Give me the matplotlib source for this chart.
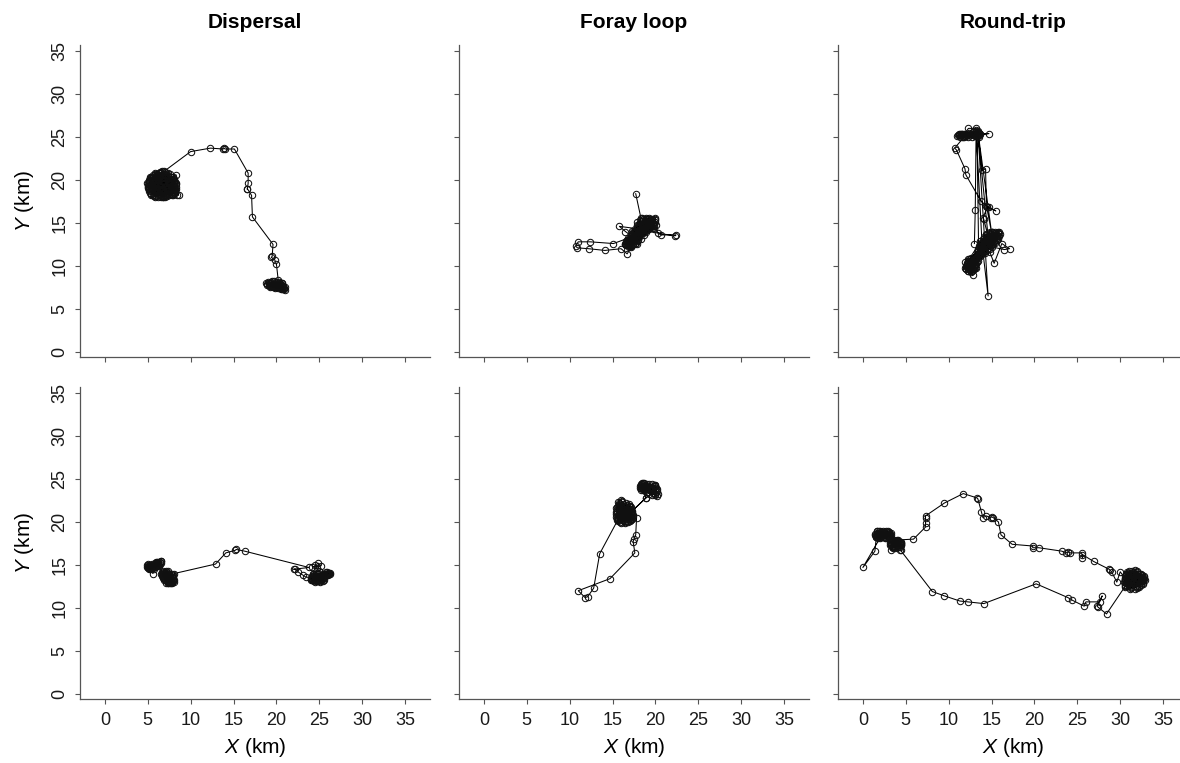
import matplotlib
matplotlib.use("Agg")
import matplotlib.pyplot as plt

plt.rcParams['font.family'] = ['Liberation Sans', 'DejaVu Sans']
plt.rcParams['mathtext.fontset'] = 'custom'
plt.rcParams['mathtext.it'] = 'Liberation Sans:italic'
plt.rcParams['mathtext.rm'] = 'Liberation Sans'

titles = ["Dispersal", "Foray loop", "Round-trip"]
tick_vals = [0, 5, 10, 15, 20, 25, 30, 35]
tick_labels = ["0", "5", "10", "15", "20", "25", "30", "35"]
xlabel = "$X$ (km)"
ylabel = "$Y$ (km)"

# ================= Dispersal (top) : (x, y) fixes in km =================
disp1_clusterA = [(6.5,19.2),(5.2,19.9),(7.8,18.4),(6.0,20.5),(8.3,19.0),(5.5,18.7),(7.1,20.6),(6.2,18.2),
    (4.9,19.6),(7.6,19.5),(6.8,18.1),(5.6,20.1),(8.0,18.6),(6.4,20.8),(5.1,18.9),(7.3,19.8),(6.9,18.5),
    (5.8,19.3),(8.4,18.3),(6.1,19.7),(5.3,20.3),(7.7,18.9),(6.6,18.0),(5.9,20.7),(7.2,19.4),(8.1,19.9),
    (5.4,18.3),(6.7,20.2),(7.5,18.7),(6.3,19.0),(5.0,19.2),(7.9,19.4),(6.0,18.5),(7.0,20.9),(5.7,19.6),
    (8.2,18.8),(6.5,18.1),(5.2,20.0),(7.4,18.4),(6.8,19.9),(6.1,20.4),(7.8,20.0),(5.5,19.0),(6.9,18.3),
    (7.3,19.1),(5.9,18.0),(6.4,20.6),(8.0,19.3),(5.3,19.5),(7.1,20.3),(6.6,18.8),(5.8,20.1),(7.6,19.7),
    (6.2,18.6),(7.0,18.2),(5.6,20.4),(8.3,19.6),(6.7,19.0),(6.0,19.8),(7.4,20.5),(5.1,19.3),(6.5,18.4),
    (7.7,18.6),(6.3,20.8),(5.7,18.6),(7.2,19.2),(6.9,19.7),(5.4,19.1),(8.1,18.9),(6.1,18.9),(7.5,19.5),
    (6.8,18.0),(5.9,20.0),(7.0,20.2),(6.4,19.4),(5.5,19.4),(7.9,19.1),(6.6,18.7),(6.2,20.1),(7.3,19.0),
    (5.8,19.8),(6.9,20.6),(7.6,19.9),(6.0,18.8),(6.7,21.0),(7.1,18.4),(6.3,19.3),(6.8,18.8),(7.0,20.7),
    (8.6,18.2),(8.3,20.6)]
disp1_clusterA2 = [(5.1,19.0),(8.1,19.6),(5.3,20.2),(8.2,18.7),(5.4,18.4),(7.9,20.3),(5.0,19.6),(8.3,19.2),
    (5.6,20.6),(7.8,18.2),(5.2,18.7),(8.0,20.0),(5.7,18.1),(7.6,20.7),(5.0,19.3),(8.2,19.0),(5.5,20.4),
    (8.1,18.4),(5.3,18.5),(7.4,20.8),(6.2,18.0),(6.6,20.9),(7.0,18.0),(5.9,20.8),(7.2,18.1),(6.1,20.7),
    (6.8,18.0),(6.4,20.9),(7.5,18.2),(5.8,20.6),(8.3,19.5),(5.1,19.8),(8.0,18.5),(5.4,20.3),(7.7,20.4),
    (5.2,18.9),(8.2,19.8),(5.6,18.3),(7.9,18.3),(5.3,20.0),(8.1,20.1),(5.0,19.1),(7.3,20.6),(6.0,18.1),
    (7.8,19.3),(5.5,19.5),(8.0,18.9),(5.8,20.3),(7.1,18.3),(6.3,20.5),(6.9,21.0)]
disp1_path = [(10.0,23.3),(12.3,23.7),(13.8,23.6),(13.9,23.7),(14.0,23.6),(15.1,23.6),(16.7,20.8),
    (16.7,19.6),(16.6,18.9),(16.6,19.0),(17.1,18.2),(17.2,15.7),(19.6,12.5),(19.5,11.1),(19.4,11.0),
    (19.8,10.7),(20.0,10.2),(20.2,8.4)]
disp1_clusterB = [(20.0,8.1),(19.3,7.9),(20.6,7.6),(18.8,8.0),(19.9,7.5),(20.4,8.0),(19.5,7.7),(20.9,7.3),
    (19.7,8.2),(20.2,7.4),(19.1,7.8),(20.7,7.8),(19.8,7.6),(20.3,7.7),(19.4,8.1),(20.8,7.5),(19.6,7.9),
    (20.1,7.8),(20.5,7.3),(19.2,7.7),(20.0,7.6),(20.6,8.0),(19.9,8.0),(20.4,7.5),(19.7,7.7),(21.0,7.2),
    (20.2,7.9),(19.5,7.8),(20.3,7.6),(20.7,7.4)]
disp1_clusterB2 = [(18.9,7.9),(20.9,7.4),(19.0,8.1),(20.8,7.7),(19.2,7.6),(20.6,7.3),(19.1,8.0),(20.7,8.0),
    (19.3,7.7),(21.0,7.5),(19.5,8.2),(20.5,7.4),(18.9,7.8),(20.4,7.9),(19.6,7.5),(20.8,7.3),(19.4,8.0),
    (20.3,8.1),(19.8,7.4),(20.1,7.7)]

# ================= Foray loop (top) =================
foray1_start = [(17.7,18.4),(18.3,15.6)]
foray1_cluster = [(17.0,12.5),(18.2,14.1),(16.7,13.0),(19.3,14.6),(17.6,13.8),(18.8,15.1),(16.9,12.2),
    (19.6,15.3),(17.8,13.2),(18.4,14.9),(17.2,13.5),(19.0,14.2),(16.6,12.7),(18.6,15.4),(17.5,12.9),
    (19.8,14.9),(18.0,14.5),(17.3,12.4),(19.2,15.6),(17.9,13.6),(18.7,14.4),(16.8,12.9),(19.5,14.7),
    (17.4,13.9),(18.3,15.2),(17.7,12.7),(19.1,15.0),(18.1,13.4),(16.5,12.5),(18.9,14.0),(17.6,14.3),
    (19.4,15.4),(17.1,13.2),(18.5,14.7),(17.8,12.5),(20.0,15.1),(18.2,13.7),(17.3,13.7),(19.0,15.5),
    (17.9,14.8),(18.6,13.8),(16.9,12.6),(19.7,14.4),(17.5,13.3),(18.4,14.3),(17.2,12.8),(18.8,15.3),
    (18.0,13.9),(19.3,14.9),(17.7,14.0),(18.3,13.1),(16.7,12.4),(19.1,14.5),(17.4,12.6),(18.6,14.6),
    (17.9,15.1),(19.5,15.0),(18.1,14.2),(17.0,13.0),(18.9,14.8),(17.6,13.4),(18.4,15.6),(17.3,14.1),
    (19.2,14.3),(18.0,13.0),(17.8,14.4),(18.7,15.0),(17.2,12.3),(19.6,14.6),(18.5,13.9)]
foray1_cluster2 = [(16.6,12.4),(19.5,15.2),(16.9,13.1),(19.8,14.6),(17.1,12.3),(19.1,15.5),(16.7,12.8),
    (19.7,15.0),(17.4,12.5),(18.9,15.4),(16.8,12.5),(19.4,14.5),(17.3,13.6),(20.1,14.8),(16.5,12.6),
    (19.0,14.9),(17.6,12.6),(19.6,15.4),(17.0,13.3),(18.6,15.0),(17.9,12.9),(19.9,15.3),(16.9,12.3),
    (18.5,14.2),(17.5,14.0),(19.3,15.1),(16.6,12.9),(19.8,14.3),(17.7,13.0),(18.2,15.3),(17.2,12.6),
    (19.2,14.7),(17.8,14.6),(18.7,13.6),(16.8,13.2),(20.0,15.4),(17.4,13.1),(18.9,15.6),(17.1,12.9),
    (19.5,14.4)]
foray1_loops = [(20.0,15.6),(19.4,14.8),(20.6,13.6),(22.4,13.6),(22.3,13.5),(20.3,13.8),(18.8,14.2),
    (15.8,14.6),(16.5,14.0),(17.3,13.4),(15.1,12.6),(12.4,12.8),(11.0,12.8),(10.7,12.3),(10.9,12.1),
    (12.2,12.0),(14.1,11.8),(16.0,12.0),(16.7,11.4),(17.2,12.2),(18.1,13.6)]

# ================= Round-trip (top) =================
round1_south_low = [(12.0,10.0),(12.8,9.5),(12.3,10.6),(13.2,10.2),(11.9,9.8),(12.6,10.9),(13.4,10.6),
    (12.2,9.4),(12.9,10.4),(12.5,9.9),(13.1,9.7),(12.1,10.3),(12.7,10.1),(13.3,11.0),(12.4,9.6),
    (11.9,10.4),(12.9,9.9),(12.6,9.3),(13.0,10.8),(12.3,10.0),(12.8,10.6),(12.0,9.6),(13.2,9.8),
    (12.5,10.5),(12.2,10.8),(12.9,9.6),(12.4,10.2),(13.1,10.4),(12.7,9.7),(12.1,9.9),(12.8,8.9),
    (12.6,9.8)]
round1_south_up = [(13.5,11.5),(14.6,12.9),(13.8,12.3),(15.2,13.6),(14.1,11.6),(15.6,13.0),(13.4,12.0),
    (14.8,13.9),(14.3,12.2),(15.0,12.4),(13.7,11.2),(15.8,13.8),(14.4,13.3),(13.9,12.8),(15.4,12.7),
    (14.0,11.9),(15.1,13.9),(13.6,12.6),(14.7,12.1),(15.5,13.4),(14.2,13.0),(13.3,11.6),(14.9,13.2),
    (14.5,11.8),(15.9,13.5),(13.8,11.7),(14.6,13.6),(15.3,12.9),(14.1,12.6),(13.5,12.3),(15.0,13.1),
    (14.8,12.5),(13.9,11.4),(15.7,14.0),(14.3,13.6),(14.0,12.2),(15.2,12.6),(13.6,11.9),(14.7,13.0),
    (15.4,13.8),(14.4,12.4),(13.7,12.9),(15.1,12.2),(14.2,11.5),(15.6,13.3),(14.9,13.7),(13.4,11.3),
    (14.5,12.7),(15.3,13.5),(14.0,13.1),(14.8,12.0),(15.8,13.1),(14.1,12.9),(13.9,12.1),(15.0,13.6),
    (14.6,12.3),(16.5,11.9),(17.1,12.0),(16.2,12.6),(15.3,10.3),(14.8,11.6)]
round1_south2 = [(12.0,9.6),(15.5,13.6),(12.4,10.8),(15.9,13.9),(12.2,9.4),(14.8,13.8),(13.0,9.9),
    (15.6,13.2),(12.1,10.2),(15.1,13.9),(12.7,9.4),(15.8,13.5),(13.2,10.9),(14.4,13.7),(12.3,9.9),
    (15.3,12.8),(12.9,10.7),(15.7,13.8),(12.5,9.5),(14.6,13.2),(13.3,10.4),(16.0,13.7),(12.0,10.0),
    (15.0,12.9),(12.8,9.6),(14.3,12.9),(13.6,11.1),(15.4,14.0),(12.6,10.2),(15.2,13.3),(13.8,12.0),
    (14.1,13.4),(12.2,10.5),(15.6,13.6),(13.4,11.8),(14.9,12.6),(12.4,9.7),(15.0,13.5),(13.1,10.1),
    (14.5,13.0),(13.7,12.5),(14.2,11.7),(12.9,10.3),(15.3,13.2),(13.5,11.4)]
round1_north = [(13.3,25.6),(11.2,25.2),(12.0,25.4),(11.6,25.0),(12.5,25.2),(11.4,25.4),(12.9,25.3),
    (12.2,25.0),(13.3,25.5),(11.8,25.3),(12.7,25.0),(13.5,25.2),(11.0,25.1),(12.4,25.5),(13.1,25.1),
    (11.5,25.2),(12.8,25.6),(13.4,25.3),(12.1,25.2),(13.0,25.4),(11.7,25.1),(12.3,26.0),(13.2,26.0),
    (13.6,25.4),(12.6,25.3),(13.3,25.2),(14.7,25.4),(13.5,25.3)]
round1_north2 = [(11.1,25.2),(13.5,25.5),(11.3,25.0),(13.4,25.1),(11.5,25.4),(13.6,25.3),(11.2,25.3),
    (13.1,25.6),(11.7,25.0),(13.5,25.0),(11.4,25.2),(13.3,25.4),(11.9,25.3),(13.2,25.1),(11.6,25.4),
    (13.4,25.6),(12.0,25.1),(13.0,25.3),(11.3,25.3),(12.8,25.2)]
round1_trips = [(11.8,25.0),(10.7,23.7),(10.9,23.5),(11.9,21.3),(12.0,20.6),(13.8,17.5),(14.5,16.9),
    (14.7,16.8),(15.5,16.4),(14.5,16.8),(14.0,15.6),(14.1,15.4),(14.6,13.4),(13.4,25.6),(13.9,21.1),
    (14.3,21.3),(14.4,17.0),(15.0,13.9),(13.4,25.7),(14.6,6.5),(13.9,12.4),(13.2,25.8),(13.1,16.5),
    (13.0,12.6)]

# ================= Dispersal (bottom) =================
disp2_west1 = [(5.0,14.9),(5.6,14.7),(6.2,15.2),(5.3,15.0),(5.9,14.8),(6.5,15.4),(5.1,14.6),(5.8,15.1),
    (6.3,14.9),(5.4,14.8),(6.0,15.3),(4.9,15.0),(5.7,14.5),(6.4,15.1),(5.2,14.7),(5.5,15.1),(6.1,14.9),
    (5.0,14.6),(5.9,15.2),(6.6,15.4),(5.3,14.5),(5.7,14.9),(6.2,15.0),(5.6,14.0)]
disp2_west1b = [(4.9,14.8),(6.4,15.3),(5.0,15.1),(6.3,15.0),(5.2,14.5),(6.1,15.3),(5.0,14.7),(6.5,15.2),
    (5.3,14.9),(6.0,15.0),(5.1,15.0),(6.2,15.3),(5.4,14.6),(5.9,15.0),(5.2,14.9),(5.8,14.8),(5.0,14.8),
    (6.1,15.1)]
disp2_west2 = [(6.7,14.2),(7.4,13.4),(6.9,13.7),(7.8,13.0),(7.1,14.1),(7.5,13.7),(6.8,13.9),(7.7,13.5),
    (7.2,13.1),(7.0,13.5),(7.9,13.2),(7.3,14.3),(6.6,13.9),(7.6,13.0),(7.1,13.8),(7.4,12.9),(6.9,14.0),
    (7.8,13.6),(7.2,13.4),(7.5,14.0),(7.0,13.2),(7.7,12.9),(6.8,13.6),(7.3,13.7),(7.6,13.3),(7.1,12.9),
    (7.9,13.8),(7.4,13.9),(8.1,13.0),(7.2,13.6),(6.9,13.3),(7.6,13.8)]
disp2_west2b = [(6.7,14.0),(7.9,13.1),(6.8,14.3),(7.8,12.9),(6.7,13.7),(7.9,13.6),(7.0,14.2),(7.6,12.9),
    (6.8,13.5),(7.8,13.9),(7.1,14.3),(7.4,13.0),(6.9,13.9),(8.0,13.3),(7.2,14.2),(7.3,12.9),(6.7,13.8),
    (7.7,13.2),(7.0,13.9),(7.5,13.1),(6.9,14.1),(7.9,13.5),(8.1,14.0)]
disp2_path = [(12.9,15.1),(14.1,16.4),(15.2,16.7),(15.3,16.8),(16.3,16.6),(23.8,14.7),(22.0,14.5),
    (22.2,14.5),(22.5,14.2),(23.1,13.8),(23.4,13.6)]
disp2_east = [(24.0,13.5),(24.9,13.2),(25.6,13.9),(24.4,13.8),(25.2,13.4),(26.1,14.1),(24.6,13.3),
    (25.0,13.7),(25.8,14.0),(24.2,13.3),(24.8,13.9),(25.4,13.1),(26.0,13.8),(24.5,13.6),(25.1,13.0),
    (25.7,13.7),(24.3,14.0),(24.9,13.5),(25.5,13.6),(26.2,14.0),(24.7,13.1),(25.3,13.8),(24.1,13.4),
    (25.0,13.3),(25.9,14.2),(24.6,13.7),(25.2,13.2),(24.4,13.2),(25.6,13.5),(24.8,13.4),(26.0,14.1),
    (25.4,14.0),(24.2,13.6)]
disp2_east2 = [(24.0,13.4),(26.1,14.0),(24.2,13.2),(25.9,13.8),(24.1,13.7),(25.8,14.2),(24.4,13.1),
    (26.2,14.1),(24.3,13.5),(25.6,14.0),(24.0,13.3),(25.5,13.2),(24.6,13.9),(25.9,14.0),(24.5,13.0),
    (25.3,13.5),(24.1,13.6),(26.0,13.9),(24.7,13.2),(25.7,13.8),(24.3,13.9),(25.1,13.1),(24.8,14.1),
    (25.4,13.4),(25.0,14.3),(24.7,14.6),(24.5,15.0),(24.9,15.2),(25.2,14.9),(24.2,14.8)]

# ================= Foray loop (bottom) =================
foray2_main = [(16.0,21.0),(15.6,20.4),(16.8,21.6),(15.9,22.1),(17.2,20.6),(16.3,20.1),(15.5,21.3),
    (16.6,20.7),(17.0,21.9),(15.8,20.8),(16.4,21.7),(17.3,21.1),(16.1,20.2),(15.4,20.9),(16.7,22.0),
    (16.9,20.3),(15.7,21.6),(16.5,21.2),(17.1,20.9),(16.2,20.6),(15.6,22.3),(16.8,20.5),(16.0,21.5),
    (15.5,20.2),(17.4,20.8),(16.3,21.9),(15.9,20.5),(16.6,21.4),(17.0,20.1),(15.7,21.1),(16.4,20.0),
    (16.9,21.3),(15.6,21.8),(16.2,21.2),(17.2,21.5),(16.0,19.9),(15.4,21.6),(16.7,20.9),(16.1,22.4),
    (16.5,20.4),(15.8,21.9),(17.3,20.4),(16.3,21.4),(15.9,20.9),(16.8,21.1),(16.0,22.5),(17.0,20.6),
    (16.4,20.8)]
foray2_main2 = [(15.5,20.5),(17.3,21.3),(15.7,22.2),(17.2,20.3),(15.4,21.2),(17.1,21.7),(15.9,20.0),
    (16.9,22.1),(15.5,21.7),(17.4,20.7),(16.1,22.3),(16.8,20.0),(15.6,20.8),(17.2,21.0),(15.8,22.0),
    (17.0,20.4),(15.4,20.6),(16.6,22.2),(16.4,19.9),(15.7,21.4),(17.3,20.9),(15.9,21.2),(16.9,21.8),
    (15.6,20.1),(17.1,20.2),(16.2,22.1),(15.5,21.0),(16.7,20.1),(16.0,21.8),(17.2,21.2)]
foray2_ne = [(18.9,22.8),(18.3,24.3),(19.2,23.9),(18.7,24.5),(19.8,24.2),(18.5,23.8),(20.1,23.5),
    (19.0,24.4),(18.2,24.0),(19.5,23.7),(20.0,24.3),(18.8,23.6),(19.4,24.1),(18.4,24.5),(19.9,23.2),
    (18.9,24.0),(19.6,24.4),(18.6,23.9),(20.2,23.0),(19.1,23.5),(18.3,23.7),(19.7,23.9),(18.9,24.3),
    (19.3,23.3),(20.0,23.8),(18.6,24.2),(19.5,24.0)]
foray2_ne2 = [(18.2,24.2),(20.2,23.6),(18.4,24.4),(20.0,23.1),(18.3,23.9),(19.9,24.3),(18.6,24.5),
    (20.3,23.3),(18.5,24.1),(19.7,23.4),(18.3,24.4),(20.1,24.0),(18.8,24.2),(19.6,23.1),(18.6,23.7),
    (20.0,24.2),(18.4,24.0),(19.3,24.4),(18.9,23.8),(20.2,23.8),(18.9,22.8)]
foray2_loop = [(17.0,21.0),(17.8,20.5),(17.7,18.5),(17.5,18.0),(17.4,17.7),(17.6,16.4),(14.7,13.4),
    (11.0,12.0),(11.8,11.2),(12.1,11.3),(12.8,12.3),(13.5,16.3),(15.6,20.2),(16.2,20.9)]

# ================= Round-trip (bottom) =================
round2_start = [(2.1,18.3),(0.0,14.7),(1.4,16.6)]
round2_clusterA = [(1.6,18.6),(2.5,18.2),(1.9,18.9),(3.0,18.6),(2.2,18.4),(1.5,18.3),(2.7,18.9),
    (2.0,18.1),(3.2,18.4),(1.8,18.7),(2.4,18.8),(2.9,18.2),(1.4,18.5),(2.6,18.5),(2.1,18.8),(3.1,18.8),
    (1.7,18.2),(2.3,19.0),(2.8,18.4),(1.9,18.4),(2.5,18.7),(3.3,18.5),(2.0,18.6),(1.6,18.9),(2.7,18.1),
    (2.2,18.7),(1.8,18.1),(2.9,18.7)]
round2_clusterA2 = [(1.5,18.5),(3.2,18.6),(1.7,18.9),(3.1,18.3),(1.5,18.2),(2.9,18.9),(1.8,18.4),
    (3.3,18.7),(1.6,18.7),(3.0,18.1),(1.9,18.2),(2.8,18.8),(1.4,18.6),(3.2,18.4),(2.0,18.9),(2.6,18.1),
    (1.7,18.5),(3.0,18.5)]
round2_clusterB = [(3.3,17.5),(4.0,17.2),(3.6,17.9),(4.3,17.6),(3.5,17.1),(3.9,17.7),(4.4,17.3),
    (3.2,17.3),(3.8,17.0),(4.1,17.9),(3.4,17.7),(4.2,17.1),(3.7,17.4),(4.5,17.5),(3.6,17.2),(4.0,17.8),
    (3.3,17.6),(3.9,17.3),(4.2,17.4),(3.5,17.8),(3.8,17.6),(4.3,17.7)]
round2_clusterB2 = [(3.3,17.3),(4.4,17.7),(3.4,17.9),(4.5,17.3),(3.2,17.6),(4.3,17.1),(3.5,17.8),
    (4.4,17.5),(3.4,17.1),(4.1,17.8),(3.3,17.7),(4.2,17.2),(3.6,17.6),(4.4,17.4),(3.5,17.0),(4.0,17.9)]
round2_north = [(5.9,18.0),(7.3,19.4),(7.3,19.9),(7.3,20.5),(7.3,20.7),(9.5,22.2),(11.7,23.3),(13.3,22.8),
    (13.4,22.7),(13.8,21.2),(14.0,20.5),(14.4,20.7),(14.9,20.5),(15.0,20.6),(15.2,20.5),(15.8,20.0),
    (16.1,18.5),(17.4,17.4),(19.8,17.2),(19.8,17.0),(20.5,17.0),(23.2,16.6),(23.7,16.4),(23.9,16.5),
    (24.2,16.4),(25.5,16.4),(25.6,15.8),(25.6,16.2),(26.9,15.4),(28.7,14.5),(28.8,14.4),(29.0,14.2),
    (29.6,13.0),(30.0,14.2)]
round2_east = [(30.6,13.4),(31.8,12.6),(32.5,13.8),(31.2,14.1),(30.9,12.8),(32.2,13.2),(31.5,13.9),
    (30.4,13.0),(32.7,13.3),(31.0,13.6),(31.9,14.3),(32.4,12.7),(31.3,12.4),(30.7,13.9),(32.0,13.5),
    (31.6,12.9),(32.8,13.6),(31.1,13.1),(31.7,14.4),(30.5,12.6),(32.3,14.0),(31.4,13.3),(32.6,12.9),
    (30.8,14.2),(31.9,12.3),(31.2,12.7),(32.1,13.9),(30.6,13.7),(31.5,13.6),(32.4,13.4),(31.0,12.5),
    (31.8,13.2),(32.9,13.2),(31.3,13.8),(30.9,13.3),(32.2,12.6),(31.6,14.2),(31.1,12.2),(32.0,13.1),
    (30.7,12.9),(31.4,14.0),(32.5,13.1),(31.7,13.5)]
round2_east2 = [(30.5,13.2),(32.8,13.4),(30.7,13.8),(32.6,12.8),(30.6,12.7),(32.4,14.0),(30.9,14.1),
    (32.7,13.1),(30.5,13.5),(32.2,12.4),(31.0,14.3),(32.8,13.7),(30.8,12.5),(32.0,14.2),(30.6,13.0),
    (32.5,13.6),(31.2,12.3),(32.3,13.9),(30.7,13.6),(32.6,13.3),(31.4,14.3),(31.9,12.4),(30.9,12.9),
    (32.4,12.9),(31.1,13.9),(32.1,13.4),(30.6,13.4),(31.7,12.2),(31.5,14.1),(32.7,13.5),(30.5,12.4)]
round2_south = [(28.4,9.3),(27.4,10.1),(27.3,10.2),(27.9,11.4),(27.6,10.7),(26.0,10.7),(25.8,10.2),
    (24.4,10.9),(23.9,11.2),(20.2,12.8),(14.1,10.5),(12.3,10.7),(11.3,10.8),(9.5,11.4),(8.1,11.9),
    (4.4,16.7),(4.3,16.7),(3.3,16.7),(3.6,17.4)]

tracks = [
    [disp1_clusterA + disp1_clusterA2 + disp1_path + disp1_clusterB + disp1_clusterB2,
     foray1_start + foray1_cluster + foray1_cluster2 + foray1_loops,
     round1_south_low + round1_south_up + round1_south2 + round1_north + round1_north2 + round1_trips],
    [disp2_west1 + disp2_west1b + disp2_west2 + disp2_west2b + disp2_path + disp2_east + disp2_east2,
     foray2_main + foray2_main2 + foray2_ne + foray2_ne2 + foray2_loop,
     round2_start + round2_clusterA + round2_clusterA2 + round2_clusterB + round2_clusterB2
     + round2_north + round2_east + round2_east2 + round2_south],
]

fig = plt.figure(figsize=(11.8, 7.63), dpi=100)
W, H = 1180.0, 763.0
lefts = [80, 459, 838]
bottoms = [357, 699]
aw, ah = 350, 312

for r in range(2):
    for c in range(3):
        ax = fig.add_axes([lefts[c] / W, 1 - bottoms[r] / H, aw / W, ah / H])
        xs, ys = zip(*tracks[r][c])
        ax.plot(xs, ys, '-', color='#000000', lw=0.75, zorder=2)
        ax.plot(xs, ys, 'o', ms=4.6, mfc='none', mec='#111111', mew=0.75, zorder=3)
        ax.set_xlim(-2.9, 37.9)
        ax.set_ylim(-0.6, 35.7)
        for s in ['top', 'right']:
            ax.spines[s].set_visible(False)
        for s in ['left', 'bottom']:
            ax.spines[s].set_color('#555555')
            ax.spines[s].set_linewidth(0.9)
        ax.set_xticks(tick_vals)
        ax.set_yticks(tick_vals)
        ax.tick_params(direction='out', length=3.5, width=0.8, color='#555555',
                       labelsize=13, labelcolor='#1a1a1a')
        ax.tick_params(axis='x', pad=6)
        ax.tick_params(axis='y', pad=5)
        if r == 1:
            ax.set_xticklabels(tick_labels)
            ax.set_xlabel(xlabel, fontsize=15, labelpad=5)
        else:
            ax.set_xticklabels([])
            ax.set_title(titles[c], fontsize=15, fontweight='bold', pad=12)
        if c == 0:
            ax.set_yticklabels(tick_labels, rotation=90, va='center')
            ax.set_ylabel(ylabel, fontsize=15, labelpad=11)
        else:
            ax.set_yticklabels([])

fig.savefig("out.png", dpi=100)
